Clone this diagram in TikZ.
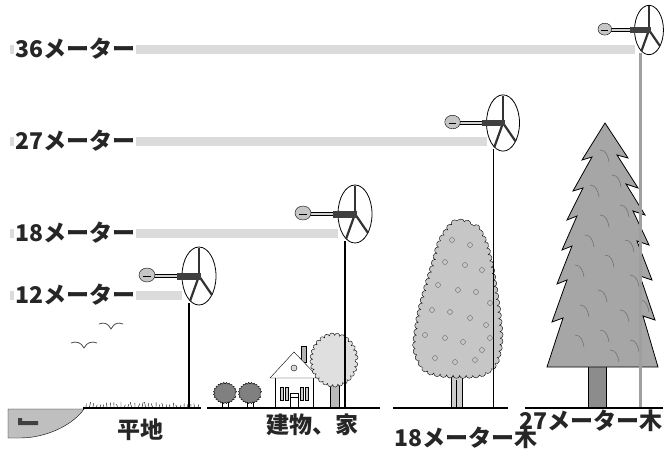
\documentclass[tikz,border=0pt]{standalone}
\usepackage{fontspec}
\newfontfamily\jp{Noto Sans CJK JP}
\usepackage{tikz}
\usetikzlibrary{decorations.pathmorphing,backgrounds}

\begin{document}
\begin{tikzpicture}[
  x=1pt, y=-1pt,
  tag/.style={font=\jp\bfseries\fontsize{23}{26}\selectfont, text=black!85, inner sep=1pt},
  meter/.style={tag, anchor=west, fill=white},
  band/.style={line width=9pt, draw=gray!28},
  ground/.style={line width=1.4pt},
  pole/.style={line width=1.3pt},
  blade/.style={line width=2.2pt, draw=black!80},
  bumpy/.style={decorate, decoration={bumps, mirror, segment length=#1, amplitude=1.6pt}},
  lobed/.style={decorate, decoration={bumps, segment length=#1, amplitude=3pt}},
  needle/.style={draw=black!55, line width=0.6pt},
  gull/.style={line width=0.8pt, draw=black!70},
  turbine/.pic={
    \fill[gray!35] (-45,-1.6) rectangle (-22,1.6);
    \draw[thin] (-45,-1.6) -- (-22,-1.6) (-45,1.6) -- (-22,1.6);
    \draw[fill=gray!45] (-52,-1) ellipse [x radius=8pt, y radius=7pt];
    \draw[thin] (-56,0) -- (-48,0);
    \draw[line width=0.8pt] (0,0) ellipse [x radius=17pt, y radius=29pt];
    \draw[blade] (0,0) -- (0,-28);
    \draw[blade] (0,0) -- (-9,25);
    \draw[blade] (0,0) -- (13,19);
    \fill[black!75] (-22,-3.5) rectangle (2,3.5);
    \coordinate (-foot) at (-10,27);
    \coordinate (-rim) at (-17,0);
  }
]
\useasboundingbox (0,0) rectangle (667,450);
\coordinate (ground) at (0,408);

% lake and open field
\draw[fill=gray!50] (8,409) -- (84,409) .. controls (72,426) and (45,438) .. (20,438) -- (8,438) -- cycle;
\fill[black!75] (18,418) -- (22,418) -- (22,421) -- (38,421) -- (38,425) -- (18,425) -- cycle;
\pgfmathsetseed{7}
\foreach \x in {86,89.5,...,198}
  \draw[thin] (\x,407) -- ++({1.5*rand},{-2-3*rnd});
\draw[gull, shift={(111,326)}] (-12,-2) .. controls (-7,-4) and (-3,-3) .. (0,3) .. controls (3,-3) and (7,-4) .. (12,-2);
\draw[gull, shift={(84,345)}] (-13,-2) .. controls (-8,-4) and (-3,-3) .. (0,3) .. controls (3,-3) and (8,-4) .. (13,-2);

% bushes, house and round tree
\foreach \x in {225,250} {
  \draw (\x-3,400) -- (\x-3,408) (\x+3,400) -- (\x+3,408);
  \draw[fill=gray, bumpy=5pt] (\x,393) ellipse [x radius=10pt, y radius=9pt];
}
\draw[fill=gray!60] (301,346) rectangle (306,362);
\draw[fill=white] (275,377) rectangle (313,408);
\draw[fill=white] (270,378) -- (294,352) -- (319,378) -- cycle;
\draw[fill=gray!30] (294,368) circle [radius=3pt];
\foreach \x in {280,285,300,305}
  \draw[fill=gray!40] (\x,387) rectangle ++(3,13);
\draw (290,393) rectangle (298,408) (290,397) -- (298,397);
\draw[fill=gray!55] (330,383) rectangle (339,408);
\draw[fill=gray!25, lobed=10pt, decoration={mirror}] (334,360) ellipse [x radius=21pt, y radius=24pt];

% tall leafy tree
\draw[fill=gray!40] (451,376) rectangle (462,408);
\draw (456.5,380) -- (456.5,408);
\draw[fill=gray!45, lobed=13pt] plot[smooth cycle] coordinates {
  (455,223) (474,226) (484,241) (490,262) (494,285) (498,312) (500,340)
  (495,363) (480,374) (450,375) (427,370) (416,350) (419,318) (426,290)
  (434,264) (441,241)};
\foreach \x/\y in {452/240,470/245,445/262,465/265,482/270,438/285,458/290,
    476/292,490/303,432/310,450/312,470/318,486/325,425/335,445/338,463/342,
    482/350,435/358,455/362,475/360,490/338}
  \draw[thin, black!60] (\x,\y) circle [radius=2.5pt];

% pine
\draw[fill=gray!90] (588,366) rectangle (606,408);
\draw[fill=gray!70, line width=0.8pt] (605,123)
  -- (628,158) -- (617,155) -- (638,188) -- (626,184) -- (645,215) -- (633,211)
  -- (649,245) -- (637,241) -- (652,280) -- (640,276) -- (655,320) -- (643,316)
  -- (658,367) -- (547,367)
  -- (563,318) -- (552,322) -- (567,280) -- (557,284) -- (572,246) -- (562,250)
  -- (577,216) -- (567,220) -- (583,188) -- (573,191) -- (592,157) -- (582,160)
  -- cycle;
\foreach \x/\y in {600/150,612/175,590/185,620/205,600/215,585/235,625/240,
    605/255,575/265,630/275,598/290,580/305,620/310,640/300,600/330,575/335,
    630/340,610/350}
  \draw[needle] (\x,\y) .. controls +(6,0) and +(-1,-6) .. +(9,12);

% turbines
\pic (t1) at (199,276) {turbine};
\pic (t2) at (355,214) {turbine};
\pic[scale=0.97] (t3) at (503,123) {turbine};
\pic[scale=0.85] (t4) at (649,30) {turbine};
\draw[pole] (t1-foot) -- (t1-foot |- ground);
\draw[pole] (t2-foot) -- (t2-foot |- ground);
\draw[pole] (t3-foot) -- (t3-foot |- ground);
\draw[pole, draw=gray!75, line width=2.4pt] (t4-foot) -- (t4-foot |- ground);

\draw[ground] (83,408) -- (201,408);
\draw[ground] (207,408) -- (380,408);
\draw[ground] (393,408) -- (508,408);
\draw[ground] (525,408) -- (663,408);

% heights
\node[meter] (m36) at (14,49) {36メーター};
\node[meter] (m27) at (14,141) {27メーター};
\node[meter] (m18) at (14,233) {18メーター};
\node[meter] (m12) at (14,295) {12メーター};
\begin{scope}[on background layer]
\draw[band] ([xshift=-4pt]m36.west) -- (m36 -| t4-rim);
\draw[band] ([xshift=-4pt]m27.west) -- (m27 -| t3-rim);
\draw[band] ([xshift=-4pt]m18.west) -- (m18 -| t2-rim);
\draw[band] ([xshift=-4pt]m12.west) -- (m12 -| t1-rim);
\end{scope}

\node[tag] (flat) at (140,430) {平地};
\node[tag] (bldg) at (312,425) {建物、家};
\node[tag, anchor=west] (tree18) at (393,438) {18メーター木};
\node[tag, anchor=west] (tree27) at (518,421) {27メーター木};
\end{tikzpicture}
\end{document}
